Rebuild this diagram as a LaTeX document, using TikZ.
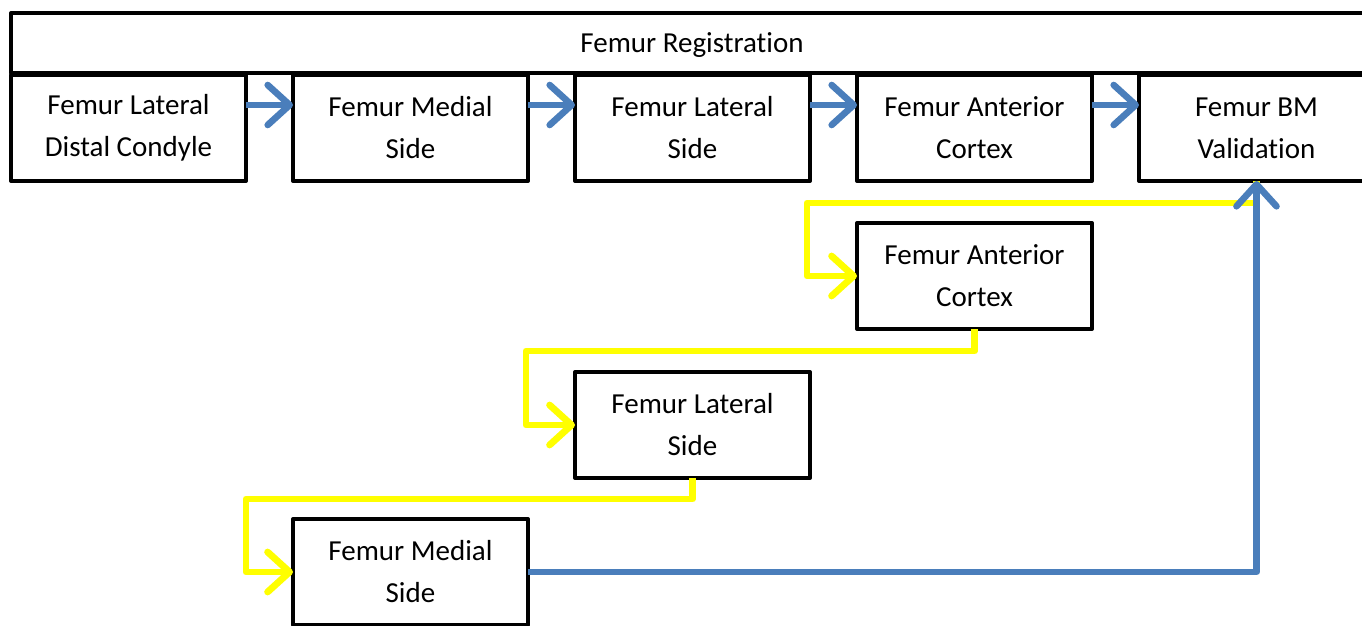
\documentclass[tikz,border=0pt]{standalone}
\usepackage{fontspec}
\setmainfont{Carlito}[Ligatures=NoCommon]
\usetikzlibrary{arrows.meta,positioning}
\definecolor{regblue}{HTML}{4A7EBB}
\definecolor{regyellow}{HTML}{FFFF00}

\begin{document}
\begin{tikzpicture}[node distance=21pt and 23.5pt,
    box/.style={draw, line width=2pt, line join=round, outer sep=0pt,
      minimum width=117.5pt, minimum height=53pt, align=center,
      font=\fontsize{14.5}{21}\selectfont},
    bar/.style={box, minimum width=681pt, minimum height=30pt, anchor=north west, text depth=0pt},
    blueline/.style={draw=regblue, line width=3.3pt, line join=round,
      -{Straight Barb[length=11pt, width=20pt, round]}},
    yellowline/.style={draw=regyellow, line width=3.4pt, line join=round,
      -{Straight Barb[length=11pt, width=20pt, round]}}]
    \useasboundingbox (0,0) rectangle (681pt,-313pt);
    \node[bar] (reg) at (5.5pt,-6.5pt) {Femur Registration};
    % main row
    \node[box, anchor=north west] (lcondyle) at ([yshift=-1pt]reg.south west) {Femur Lateral\\Distal Condyle};
    \node[box, right=of lcondyle] (mside) {Femur Medial\\Side};
    \node[box, right=of mside] (lside) {Femur Lateral\\Side};
    \node[box, right=of lside] (cortex) {Femur Anterior\\Cortex};
    \node[box, right=of cortex] (valid) {Femur BM\\Validation};
    % way back
    \node[box, below=of cortex] (acortex) {Femur Anterior\\Cortex};
    \node[box, below left=21.5pt and 23.5pt of acortex] (lside2) {Femur Lateral\\Side};
    \node[box, below left=20.5pt and 23.5pt of lside2] (mside2) {Femur Medial\\Side};
    \draw[blueline] ([yshift=11.5pt]lcondyle.east) -- ([yshift=11.5pt]mside.west);
    \draw[blueline] ([yshift=11.5pt]mside.east) -- ([yshift=11.5pt]lside.west);
    \draw[blueline] ([yshift=11.5pt]lside.east) -- ([yshift=11.5pt]cortex.west);
    \draw[blueline] ([yshift=11.5pt]cortex.east) -- ([yshift=11.5pt]valid.west);
    \draw[yellowline] (valid.south) |- ([xshift=-25pt, yshift=10pt]acortex.north west) |- (acortex.west);
    \draw[yellowline] (acortex.south) |- ([xshift=-24.5pt, yshift=10.5pt]lside2.north west) |- (lside2.west);
    \draw[yellowline] (lside2.south) |- ([xshift=-23.5pt, yshift=10pt]mside2.north west) |- (mside2.west);
    \draw[blueline] (mside2.east) -| (valid.south);
\end{tikzpicture}
\end{document}
